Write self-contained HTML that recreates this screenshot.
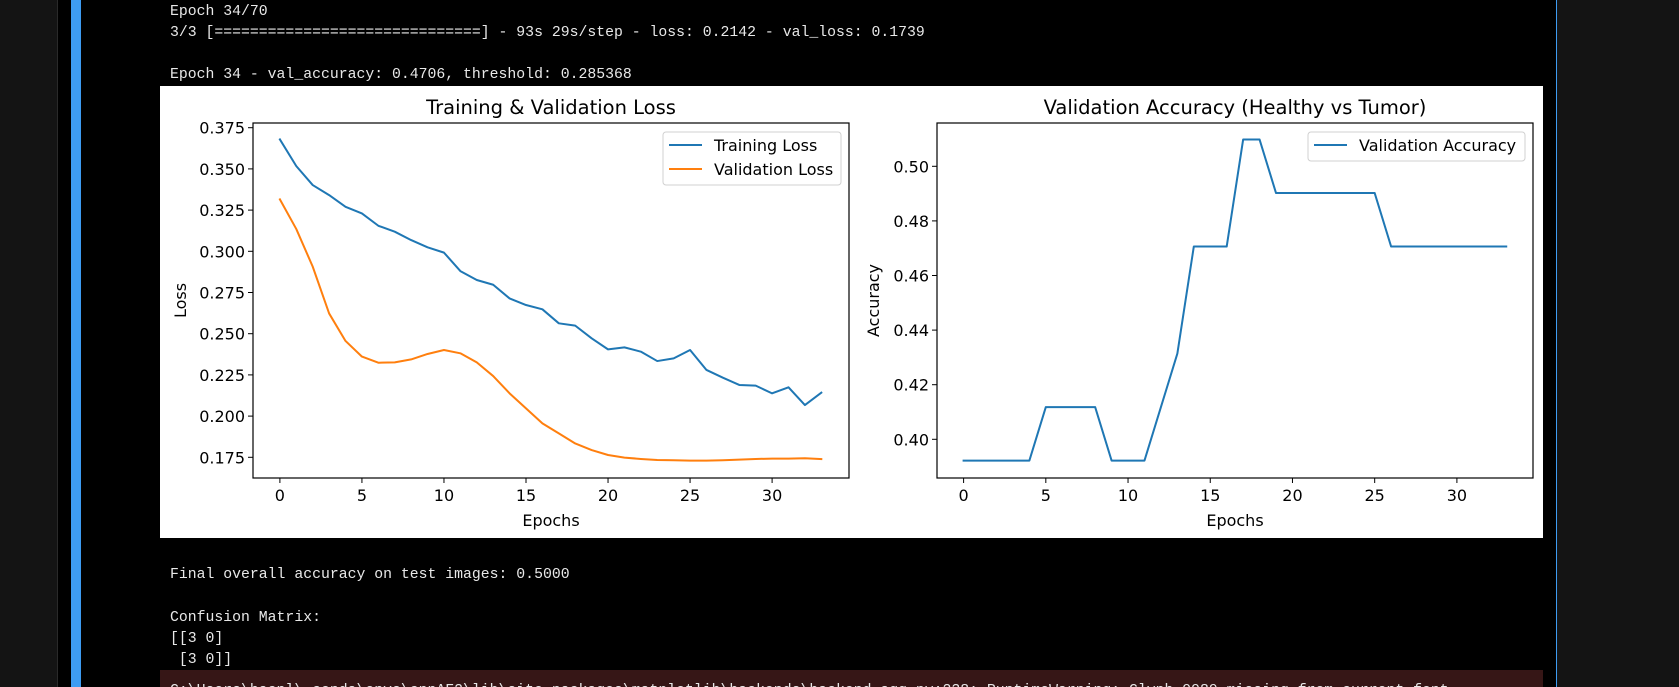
<!DOCTYPE html>
<html><head><meta charset="utf-8">
<style>
html,body{margin:0;padding:0;width:1679px;height:687px;overflow:hidden;background:#000;}
.abs{position:absolute;}
.mono{font-family:"Liberation Mono",monospace;font-size:14.8px;color:#e8e8e8;white-space:pre;line-height:21px;}
</style></head>
<body>
<div class="abs" style="left:0;top:0;width:57px;height:687px;background:#141414;"></div>
<div class="abs" style="left:57px;top:0;width:1px;height:687px;background:#2a2a2a;"></div>
<div class="abs" style="left:71px;top:0;width:10px;height:687px;background:#3e9cf2;"></div>
<div class="abs" style="left:1556px;top:0;width:1px;height:687px;background:#3e9cf2;"></div>
<div class="abs" style="left:1557px;top:0;width:122px;height:687px;background:#141414;"></div>

<div class="abs mono" style="left:170px;top:2px;">Epoch 34/70</div>
<div class="abs mono" style="left:170px;top:23px;">3/3 [==============================] - 93s 29s/step - loss: 0.2142 - val_loss: 0.1739</div>
<div class="abs mono" style="left:170px;top:65px;">Epoch 34 - val_accuracy: 0.4706, threshold: 0.285368</div>

<div class="abs mono" style="left:170px;top:565px;">Final overall accuracy on test images: 0.5000</div>
<div class="abs mono" style="left:170px;top:608px;">Confusion Matrix:</div>
<div class="abs mono" style="left:170px;top:629px;">[[3 0]</div>
<div class="abs mono" style="left:170px;top:650px;"> [3 0]]</div>
<div class="abs" style="left:160px;top:670px;width:1383px;height:17px;background:#361616;overflow:hidden;">
<div class="mono" style="position:absolute;left:10px;top:11px;">C:\Users\hacnl\.conda\envs\cnnAF2\lib\site-packages\matplotlib\backends\backend_agg.py:238: RuntimeWarning: Glyph 9989 missing from current font.</div>
</div>

<svg class="abs" style="left:0;top:0" width="1679" height="687" xmlns="http://www.w3.org/2000/svg" font-family="DejaVu Sans, sans-serif">
<rect x="160" y="86" width="1383" height="452" fill="#fff"/>
<g id="g1"></g>
<g id="g2"></g>
</svg>

<script>
const epochs = [0,1,2,3,4,5,6,7,8,9,10,11,12,13,14,15,16,17,18,19,20,21,22,23,24,25,26,27,28,29,30,31,32,33];
const trainLoss = [0.3679,0.3517,0.3402,0.3341,0.3270,0.3230,0.3155,0.3119,0.3068,0.3024,0.2992,0.2880,0.2826,0.2797,0.2714,0.2674,0.2648,0.2563,0.2549,0.2472,0.2405,0.2417,0.2391,0.2334,0.2350,0.2401,0.2280,0.2233,0.2189,0.2185,0.2138,0.2175,0.2067,0.2142];
const valLoss = [0.3315,0.3135,0.2907,0.2623,0.2456,0.2361,0.2324,0.2326,0.2344,0.2377,0.2401,0.2381,0.2326,0.2243,0.2138,0.2047,0.1956,0.1895,0.1834,0.1794,0.1764,0.1748,0.1740,0.1734,0.1732,0.1730,0.1730,0.1732,0.1736,0.1740,0.1742,0.1742,0.1744,0.1739];
const valAcc = [0.3922,0.3922,0.3922,0.3922,0.3922,0.4118,0.4118,0.4118,0.4118,0.3922,0.3922,0.3922,0.4118,0.4314,0.4706,0.4706,0.4706,0.5098,0.5098,0.4902,0.4902,0.4902,0.4902,0.4902,0.4902,0.4902,0.4706,0.4706,0.4706,0.4706,0.4706,0.4706,0.4706,0.4706];
const xTicks = [0,5,10,15,20,25,30];
const lossTicks = [0.175,0.200,0.225,0.250,0.275,0.300,0.325,0.350,0.375];
const accTicks = [0.40,0.42,0.44,0.46,0.48,0.50];

const NS='http://www.w3.org/2000/svg';
function mk(tag, attrs, parent, text){
  const e=document.createElementNS(NS,tag);
  for(const k in attrs) e.setAttribute(k,attrs[k]);
  if(text!==undefined) e.textContent=text;
  parent.appendChild(e); return e;
}

function drawPanel(g, cfg){
  const {L,R,T,B,xA,xB,yA,yB,yticks,fmt,title,ylabel,series,ylabelX,legend}=cfg;
  const xs=v=>xA.px+(v-xA.v)*(xB.px-xA.px)/(xB.v-xA.v);
  const ys=v=>yA.px+(v-yA.v)*(yB.px-yA.px)/(yB.v-yA.v);
  series.forEach(s=>{
    const pts=s.data.map((v,i)=>xs(epochs[i]).toFixed(2)+','+ys(v).toFixed(2)).join(' ');
    const pl=mk('polyline',{points:pts,fill:'none',stroke:s.color,'stroke-width':2,'stroke-linejoin':'round','stroke-linecap':'square'},g);
    
    
  });
  const fr=mk('rect',{x:L,y:T,width:R-L,height:B-T,fill:'none',stroke:'#000','stroke-width':1.2},g);
  
  
  xTicks.forEach(t=>{
    const x=xs(t);
    mk('line',{x1:x,x2:x,y1:B,y2:B+5,stroke:'#000'},g);
    const tx=mk('text',{x:x,y:501,'font-size':16,'text-anchor':'middle',fill:'#000'},g,String(t));
    
    
  });
  yticks.forEach(t=>{
    const y=ys(t);
    mk('line',{x1:L-5,x2:L,y1:y,y2:y,stroke:'#000'},g);
    const tx=mk('text',{x:L-8,y:y+6,'font-size':16,'text-anchor':'end',fill:'#000'},g,fmt(t));
    
    
  });
  const ti=mk('text',{x:(L+R)/2,y:114,'font-size':19.5,'text-anchor':'middle',fill:'#000'},g,title);
  
  
  const xl=mk('text',{x:(L+R)/2,y:526,'font-size':16,'text-anchor':'middle',fill:'#000'},g,'Epochs');
  
  
  const yl=mk('text',{x:0,y:0,'font-size':16,'text-anchor':'middle',fill:'#000',transform:`translate(${ylabelX},${(T+B)/2}) rotate(-90)`},g,ylabel);
  
  
  const lb=mk('rect',{x:legend.x,y:legend.y,width:legend.w,height:legend.h,rx:3,fill:'#fff','fill-opacity':0.8,stroke:'#d0d0d0'},g);
  
  
  series.forEach((s,i)=>{
    const y=legend.y+13+i*24;
    mk('line',{x1:legend.x+6,x2:legend.x+39,y1:y,y2:y,stroke:s.color,'stroke-width':2},g);
    const lt=mk('text',{x:legend.x+51,y:y+6,'font-size':16,fill:'#000'},g,s.label);
    
    
  });
}

drawPanel(document.getElementById('g1'),{
  L:253,R:849,T:123,B:478,
  xA:{v:0,px:279.9},xB:{v:30,px:772.1},
  yA:{v:0.375,px:127.7},yB:{v:0.175,px:457.3},
  yticks:lossTicks,fmt:t=>t.toFixed(3),
  title:'Training & Validation Loss',ylabel:'Loss',ylabelX:186,
  series:[{name:'training-loss-line',label:'Training Loss',color:'#1f77b4',data:trainLoss},
          {name:'validation-loss-line',label:'Validation Loss',color:'#ff7f0e',data:valLoss}],
  legend:{x:663,y:132,w:178,h:53}
});
drawPanel(document.getElementById('g2'),{
  L:937,R:1533,T:123,B:478,
  xA:{v:0,px:963.6},xB:{v:30,px:1456.9},
  yA:{v:0.50,px:166.3},yB:{v:0.40,px:439.3},
  yticks:accTicks,fmt:t=>t.toFixed(2),
  title:'Validation Accuracy (Healthy vs Tumor)',ylabel:'Accuracy',ylabelX:879,
  series:[{name:'validation-accuracy-line',label:'Validation Accuracy',color:'#1f77b4',data:valAcc}],
  legend:{x:1308,y:132,w:217,h:29}
});
</script>
</body></html>
